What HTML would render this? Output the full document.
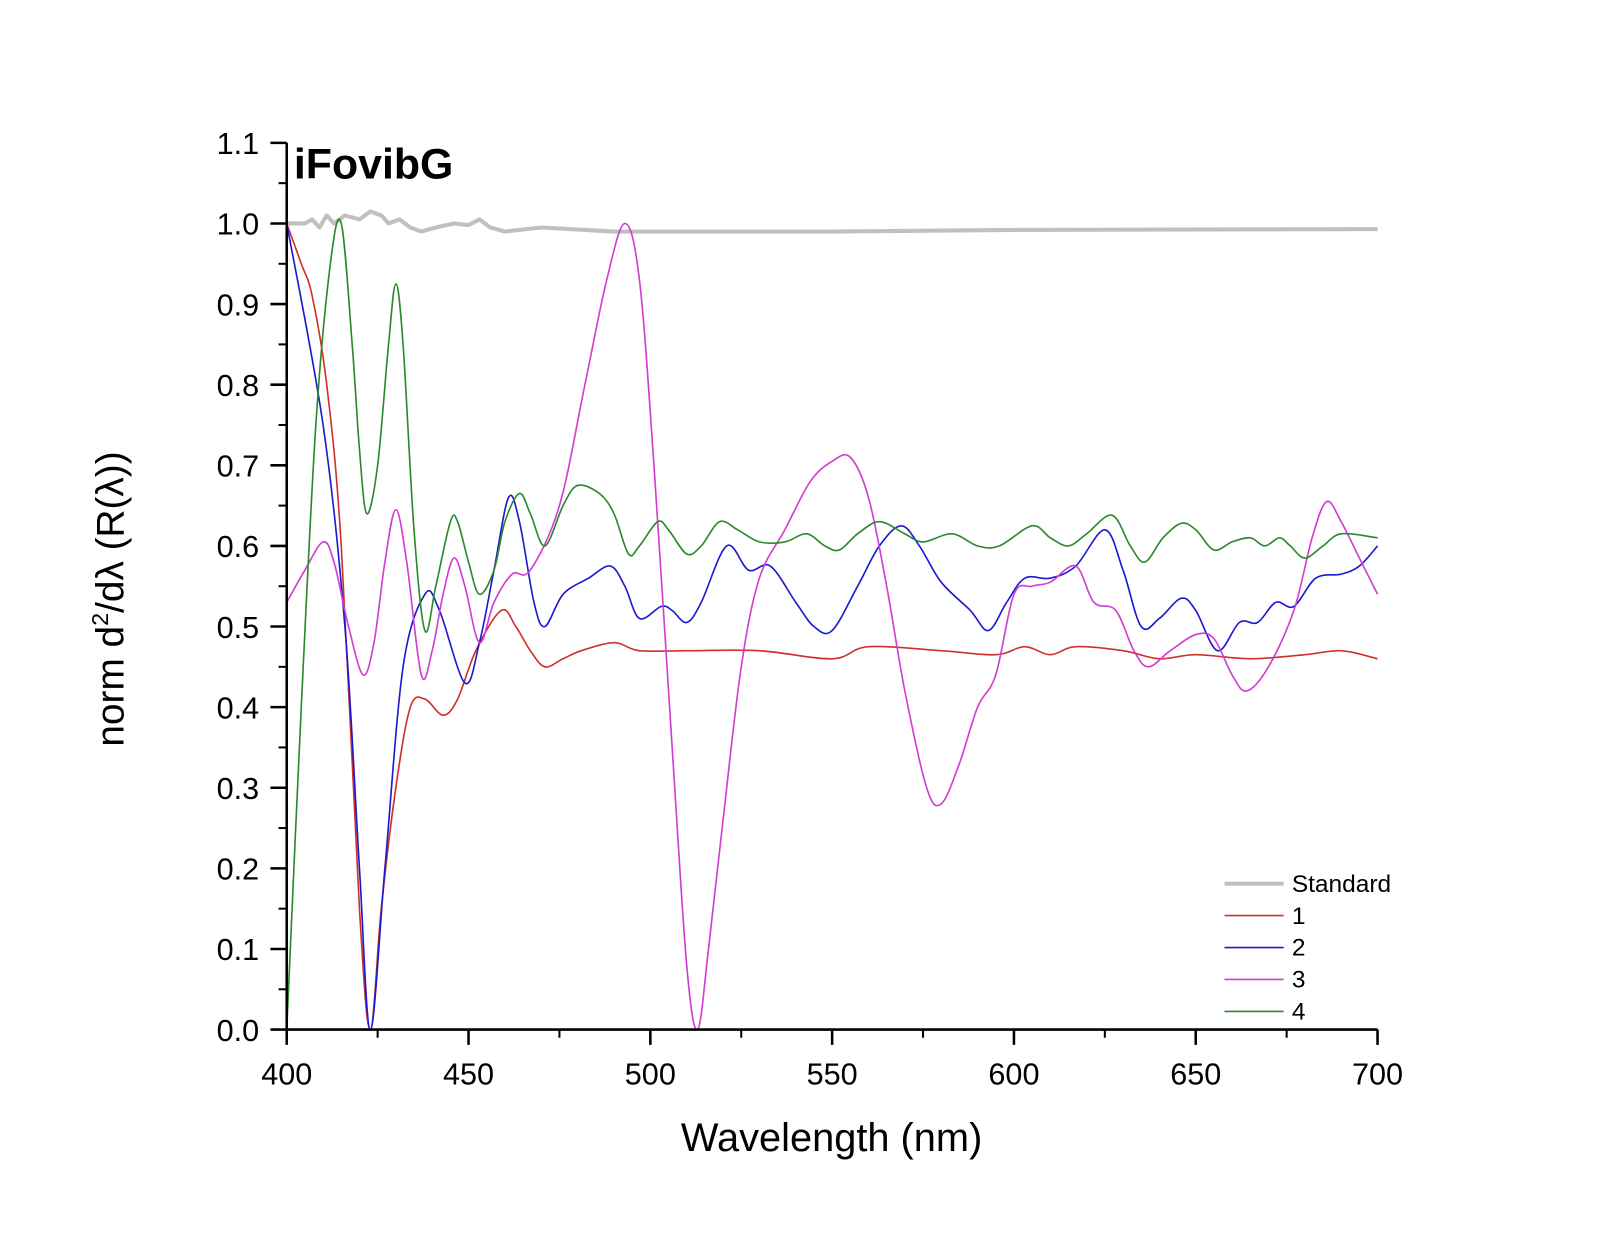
<!DOCTYPE html>
<html><head><meta charset="utf-8"><style>
body{margin:0;background:#fff}
svg{display:block;font-family:"Liberation Sans",Arial,sans-serif}
</style></head><body>
<svg id="chart" width="1600" height="1236" viewBox="0 0 1600 1236" xmlns="http://www.w3.org/2000/svg">
<rect width="1600" height="1236" fill="#fff"/>
<g transform="scale(1.0204)">
<g id="plot"></g>
<text x="288" y="175" font-size="42" font-weight="bold">iFovibG</text>
<text x="815" y="1128" font-size="39" text-anchor="middle">Wavelength (nm)</text>
<text transform="translate(121,587) rotate(-90)" font-size="38" text-anchor="middle">norm d<tspan font-size="23" dy="-15">2</tspan><tspan dy="15">/d</tspan>λ (R(λ))</text>
<g id="legend"></g>
</g>
</svg>
<script>
const xTicks=[400,450,500,550,600,650,700];
const yTicks=[0.0,0.1,0.2,0.3,0.4,0.5,0.6,0.7,0.8,0.9,1.0,1.1];
const seriesNames=["Standard","1","2","3","4"];
const seriesColors=["#c0c0c0","#d0302a","#1a1ad0","#d23cd2","#2a8a2a"];
const stdX=[400,405,407,409,411,413,416,420,423,426,428,431,434,437,441,446,450,453,456,460,470,490,550,600,700];
const stdY=[1.0,1.0,1.005,0.995,1.01,1.0,1.01,1.005,1.015,1.01,1.0,1.005,0.995,0.99,0.995,1.0,0.998,1.005,0.995,0.99,0.995,0.99,0.99,0.992,0.993];
const s1X=[400,404,407,411,415,420,423,426,430,434,438,443,447,452,459,463,467,471,476,481,490,497,510,530,550,560,580,595,603,610,617,630,640,650,665,680,690,700];
const s1Y=[1.0,0.95,0.91,0.8,0.6,0.15,0.0,0.15,0.3,0.4,0.41,0.39,0.41,0.47,0.52,0.5,0.47,0.45,0.46,0.47,0.48,0.47,0.47,0.47,0.46,0.475,0.47,0.465,0.475,0.465,0.475,0.47,0.46,0.465,0.46,0.465,0.47,0.46];
const s2X=[400,410,416,420,423,427,432,438,442,449,453,457,461,464,468,471,476,483,489,493,497,503,506,510,514,521,527,533,540,545,550,557,563,569,574,580,588,593,598,603,610,617,625,630,635,640,646,650,656,662,667,672,677,683,690,695,700];
const s2Y=[1.0,0.75,0.5,0.2,0.0,0.2,0.45,0.54,0.52,0.43,0.48,0.57,0.66,0.63,0.53,0.5,0.54,0.56,0.575,0.55,0.51,0.525,0.52,0.505,0.53,0.6,0.57,0.575,0.53,0.5,0.495,0.55,0.6,0.625,0.6,0.555,0.52,0.495,0.53,0.56,0.56,0.575,0.62,0.57,0.5,0.51,0.535,0.52,0.47,0.505,0.505,0.53,0.525,0.56,0.565,0.575,0.6];
const s3X=[400,405,410,413,417,421,424,427,430,433,437,440,443,446,449,453,457,462,467,475,482,488,493,497,501,506,510,513,516,520,525,530,537,544,550,555,560,565,570,576,580,585,590,595,600,605,610,617,622,628,633,637,643,650,655,660,664,670,677,682,686,690,695,700];
const s3Y=[0.53,0.57,0.605,0.58,0.5,0.44,0.48,0.58,0.645,0.58,0.44,0.47,0.54,0.585,0.55,0.48,0.53,0.565,0.57,0.65,0.8,0.93,1.0,0.93,0.7,0.35,0.08,0.0,0.1,0.26,0.45,0.56,0.62,0.68,0.705,0.71,0.66,0.55,0.42,0.3,0.28,0.33,0.4,0.44,0.54,0.55,0.555,0.575,0.53,0.52,0.47,0.45,0.47,0.49,0.485,0.44,0.42,0.45,0.52,0.61,0.655,0.63,0.585,0.54];
const s4X=[400,404,408,412,415,418,420,422,425,428,430,432,435,438,441,445,447,450,453,457,460,464,467,471,476,480,486,490,494,497,502,505,510,514,519,524,530,537,543,548,552,557,563,570,575,583,590,596,605,610,615,620,627,632,636,641,646,650,655,660,665,669,673,676,680,685,690,700];
const s4Y=[0.0,0.4,0.75,0.95,1.0,0.85,0.72,0.64,0.7,0.85,0.925,0.85,0.62,0.495,0.55,0.63,0.63,0.58,0.54,0.57,0.63,0.665,0.64,0.6,0.65,0.675,0.665,0.64,0.59,0.6,0.63,0.62,0.59,0.6,0.63,0.62,0.605,0.605,0.615,0.6,0.595,0.615,0.63,0.615,0.605,0.615,0.6,0.6,0.625,0.61,0.6,0.615,0.638,0.6,0.58,0.61,0.628,0.62,0.595,0.605,0.61,0.6,0.61,0.6,0.585,0.6,0.615,0.61];

const NS="http://www.w3.org/2000/svg";
const X0=281,X1=1350,Y0=1009,Y1=219;
const sx=v=>X0+(v-400)*(X1-X0)/300;
const sy=v=>Y0-v*(Y0-Y1);
const plot=document.getElementById('plot');
const legend=document.getElementById('legend');
function mk(tag,attrs,parent){const e=document.createElementNS(NS,tag);for(const k in attrs)e.setAttribute(k,attrs[k]);parent.appendChild(e);return e;}
function smooth(xs,ys,linear){
  const p=xs.map((x,i)=>[sx(x),sy(ys[i])]);
  let d="M"+p[0][0]+","+p[0][1];
  for(let i=0;i<p.length-1;i++){
    if(linear){d+=" L"+p[i+1][0]+","+p[i+1][1];continue;}
    const p0=p[Math.max(i-1,0)],p1=p[i],p2=p[i+1],p3=p[Math.min(i+2,p.length-1)];
    const c1=[p1[0]+(p2[0]-p0[0])/6,p1[1]+(p2[1]-p0[1])/6];
    const c2=[p2[0]-(p3[0]-p1[0])/6,p2[1]-(p3[1]-p1[1])/6];
    d+=" C"+c1+" "+c2+" "+p2;
  }
  return d;
}
const data=[[stdX,stdY],[s1X,s1Y],[s2X,s2Y],[s3X,s3Y],[s4X,s4Y]];
data.forEach((s,i)=>{
  const path=mk('path',{d:smooth(s[0],s[1],i===0),fill:'none',stroke:seriesColors[i],'stroke-width':i===0?4:1.6,'stroke-linejoin':'round'},plot);
  
  
  const ly=866+i*31.3;
  const ll=mk('line',{x1:1200,x2:1258,y1:ly,y2:ly,stroke:seriesColors[i],'stroke-width':i===0?4:1.6},legend);
  
  
  const lt=mk('text',{x:1266,y:ly+8,'font-size':24},legend);
  lt.textContent=seriesNames[i];
  
  
});
const ax=mk('line',{x1:X0,x2:X1,y1:Y0,y2:Y0,stroke:'#000','stroke-width':2.5},plot);


const ay=mk('line',{x1:X0,x2:X0,y1:Y0,y2:sy(1.1),stroke:'#000','stroke-width':2.5},plot);


xTicks.forEach((v,i)=>{
  mk('line',{x1:sx(v),x2:sx(v),y1:Y0,y2:Y0+15,stroke:'#000','stroke-width':2.5},plot);
  if(i<xTicks.length-1){const m=v+25;mk('line',{x1:sx(m),x2:sx(m),y1:Y0,y2:Y0+8,stroke:'#000','stroke-width':2},plot);}
  const t=mk('text',{x:sx(v),y:1063,'font-size':30,'text-anchor':'middle'},plot);
  t.textContent=v;
  
  
});
yTicks.forEach((v,i)=>{
  mk('line',{x1:X0-16,x2:X0,y1:sy(v),y2:sy(v),stroke:'#000','stroke-width':2.5},plot);
  if(i<yTicks.length-1){const m=v+0.05;mk('line',{x1:X0-8,x2:X0,y1:sy(m),y2:sy(m),stroke:'#000','stroke-width':2},plot);}
  const t=mk('text',{x:254,y:sy(v)+11,'font-size':30,'text-anchor':'end'},plot);
  t.textContent=v.toFixed(1);
  
  
});
</script>
</body></html>
